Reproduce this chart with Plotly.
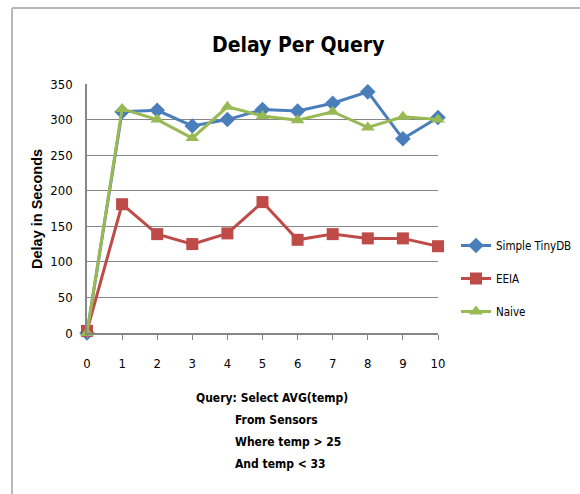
import plotly.graph_objects as go

queries = [0, 1, 2, 3, 4, 5, 6, 7, 8, 9, 10]
simple_tinydb = [0, 311, 313, 291, 300, 314, 312, 323, 339, 273, 303]
eeia = [3, 181, 139, 125, 140, 184, 131, 139, 133, 133, 122]
naive = [0, 315, 300, 274, 318, 305, 299, 311, 289, 304, 300]

y_ticks = [0, 50, 100, 150, 200, 250, 300, 350]
query_lines = ["Query: Select AVG(temp)", "From Sensors", "Where temp > 25", "And temp < 33"]

FONT = "DejaVu Sans Condensed, Liberation Sans Narrow, Arial Narrow, Arial, sans-serif"

# plot area geometry in pixels
L, R, T, B = 87, 438, 84, 333
W, H = 580, 494
def px(x):
    return (x - L) / (R - L)
def py(y):
    return (B - y) / (B - T)

fig = go.Figure()
fig.add_trace(go.Scatter(x=queries, y=simple_tinydb, name="Simple TinyDB", mode="lines+markers",
                         line=dict(color="#4A7EBB", width=3),
                         marker=dict(symbol="diamond", size=12, color="#4A7EBB"),
                         legendgroup="a", cliponaxis=False))
fig.add_trace(go.Scatter(x=queries, y=eeia, name="EEIA", mode="lines+markers",
                         line=dict(color="#BE4B48", width=3),
                         marker=dict(symbol="square", size=12, color="#BE4B48"),
                         legendgroup="b", cliponaxis=False))
fig.add_trace(go.Scatter(x=queries, y=naive, name="Naive", mode="lines+markers",
                         line=dict(color="#98B954", width=3),
                         marker=dict(symbol="triangle-up", size=12, color="#98B954"),
                         legendgroup="c", cliponaxis=False))

annotations = [
    dict(text="<b>Delay Per Query</b>", x=px(298), y=py(45), xref="paper", yref="paper",
         showarrow=False, font=dict(family=FONT, size=21, color="#000000"),
         xanchor="center", yanchor="middle"),
    dict(text="<b>Delay in Seconds</b>", x=px(37), y=py(209), xref="paper", yref="paper",
         showarrow=False, textangle=-90, font=dict(family="Arial, sans-serif", size=14.5, color="#000000"),
         xanchor="center", yanchor="middle"),
]
line_pos = [(194, 398), (233, 420), (233, 442), (233, 464)]
for txt, (lx, ly) in zip(query_lines, line_pos):
    annotations.append(dict(text="<b>" + txt + "</b>", x=px(lx), y=py(ly), xref="paper", yref="paper",
                            showarrow=False, xanchor="left", yanchor="middle",
                            font=dict(family=FONT, size=12, color="#000000")))

fig.update_layout(
    width=W, height=H,
    margin=dict(l=L, r=W - R, t=T, b=H - B, pad=0, autoexpand=False),
    paper_bgcolor="white", plot_bgcolor="white",
    font=dict(family=FONT, size=12, color="#000000"),
    showlegend=True,
    legend=dict(x=px(456), y=py(231), xanchor="left", yanchor="top",
                tracegroupgap=14, font=dict(family=FONT, size=11.5),
                bgcolor="rgba(0,0,0,0)", itemwidth=30),
    annotations=annotations,
    shapes=[
        dict(type="line", xref="paper", yref="paper", x0=px(12), x1=px(600), y0=py(8), y1=py(8),
             line=dict(color="#B8B8B8", width=2)),
        dict(type="line", xref="paper", yref="paper", x0=px(12), x1=px(12), y0=py(8), y1=py(510),
             line=dict(color="#B8B8B8", width=2)),
    ],
)
fig.update_xaxes(range=[0, 10], tickvals=queries, showgrid=False, zeroline=False,
                 showline=True, linecolor="#868686", linewidth=1.5,
                 ticks="outside", ticklen=5, tickcolor="#868686",
                 ticklabelstandoff=13, tickfont=dict(family=FONT, size=13))
fig.update_yaxes(range=[0, 350], tickvals=y_ticks, showgrid=True, gridcolor="#868686", gridwidth=1,
                 zeroline=False, showline=True, linecolor="#868686", linewidth=1.5,
                 ticks="", ticklabelstandoff=10, tickfont=dict(family=FONT, size=13))

fig.write_html("out.html", config={"displayModeBar": False},
               post_script="document.body.style.margin='0';")
